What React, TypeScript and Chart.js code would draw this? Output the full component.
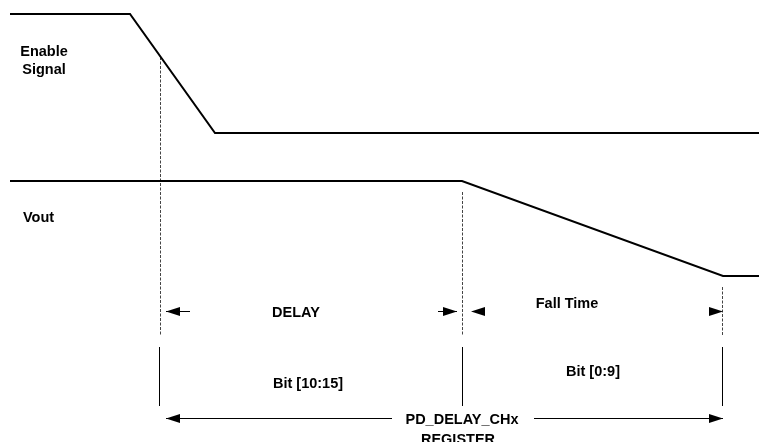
import React, { useEffect, useRef } from "react";
import { Chart, registerables } from "chart.js";

Chart.register(...registerables);

// Diagram coordinate space: time (x) and signal row (y, downward)
const X_RANGE = [0, 759];
const Y_RANGE = [0, 442];

// Waveforms
const enableTime = [10, 130, 215, 759];
const enableLevel = [14, 14, 133, 133];
const voutTime = [10, 462, 723, 759];
const voutLevel = [181, 181, 276, 276];

// Event markers (dotted guides)
const markerTime = [160.5, 462.5, 722.5];
const markerTop = [57, 192, 287];
const markerBottom = [335, 335, 335];

// Register-field boundaries (solid)
const fieldTime = [159.5, 462.5, 722.5];
const fieldTop = [347, 347, 347];
const fieldBottom = [406, 406, 406];

// Arrow shafts [x1, x2, y]
const shaftStart = [166, 438, 166, 534];
const shaftEnd = [190, 457, 392, 723];
const shaftRow = [311.5, 311.5, 418.5, 418.5];

// Arrowheads: tip x, row, direction (-1 left, 1 right)
const headTip = [166, 457, 471, 723, 166, 723];
const headRow = [311.5, 311.5, 311.5, 311.5, 418.5, 418.5];
const headDir = [-1, 1, -1, 1, -1, 1];

// Labels
const labelText = ["Enable", "Signal", "Vout", "DELAY", "Fall Time", "Bit [10:15]", "Bit [0:9]", "PD_DELAY_CHx", "REGISTER"];
const labelX = [44, 44, 23, 296, 567, 308, 593, 462, 458];
const labelY = [52, 70, 218, 313, 304, 384, 372, 420, 440];
const labelAlign = ["center", "center", "left", "center", "center", "center", "center", "center", "center"];

const annotPlugin = {
  id: "annot",
  afterDatasetsDraw(chart: any) {
    const { ctx, scales } = chart;
    const sx = (v: number) => scales.x.getPixelForValue(v);
    const sy = (v: number) => scales.y.getPixelForValue(v);
    ctx.save();
    ctx.fillStyle = "#000";
    for (let i = 0; i < headTip.length; i++) {
      const tx = sx(headTip[i]);
      const ty = sy(headRow[i]);
      const bx = tx - headDir[i] * 14;
      ctx.beginPath();
      ctx.moveTo(tx, ty);
      ctx.lineTo(bx, ty - 4.5);
      ctx.lineTo(bx, ty + 4.5);
      ctx.closePath();
      ctx.fill();
    }
    ctx.font = 'bold 14.5px "Liberation Sans", Arial, sans-serif';
    ctx.textBaseline = "middle";
    for (let i = 0; i < labelText.length; i++) {
      ctx.textAlign = labelAlign[i] as CanvasTextAlign;
      ctx.fillText(labelText[i], sx(labelX[i]), sy(labelY[i]));
    }
    ctx.restore();
  },
};

export default function App() {
  const ref = useRef<HTMLCanvasElement | null>(null);
  useEffect(() => {
    document.body.style.margin = "0";
    const canvas = ref.current;
    if (!canvas) return;
    const line = (data: { x: number; y: number }[], width: number, color: string, dash: number[] = []) => ({
      data,
      showLine: true,
      borderColor: color,
      backgroundColor: color,
      borderWidth: width,
      borderDash: dash,
      pointRadius: 0,
      pointHoverRadius: 0,
      fill: false,
      tension: 0,
    });
    const datasets: any[] = [
      line(enableTime.map((t, i) => ({ x: t, y: enableLevel[i] })), 2, "#000"),
      line(voutTime.map((t, i) => ({ x: t, y: voutLevel[i] })), 2, "#000"),
    ];
    markerTime.forEach((t, i) =>
      datasets.push(line([{ x: t, y: markerTop[i] }, { x: t, y: markerBottom[i] }], 1, "#444", [3, 1.5]))
    );
    fieldTime.forEach((t, i) =>
      datasets.push(line([{ x: t, y: fieldTop[i] }, { x: t, y: fieldBottom[i] }], 1, "#000"))
    );
    shaftStart.forEach((s, i) =>
      datasets.push(line([{ x: s, y: shaftRow[i] }, { x: shaftEnd[i], y: shaftRow[i] }], 1, "#000"))
    );
    const chart = new Chart(canvas, {
      type: "scatter",
      data: { datasets },
      options: {
        animation: false,
        responsive: false,
        maintainAspectRatio: false,
        events: [],
        layout: { padding: 0 },
        plugins: { legend: { display: false }, tooltip: { enabled: false } },
        scales: {
          x: { type: "linear", min: X_RANGE[0], max: X_RANGE[1], display: false },
          y: { type: "linear", min: Y_RANGE[0], max: Y_RANGE[1], reverse: true, display: false },
        },
      },
      plugins: [annotPlugin],
    });
    return () => chart.destroy();
  }, []);
  return (
    <div style={{ width: 759, height: 442, background: "#fff" }}>
      <canvas ref={ref} width={759} height={442} style={{ display: "block", width: 759, height: 442 }} />
    </div>
  );
}
